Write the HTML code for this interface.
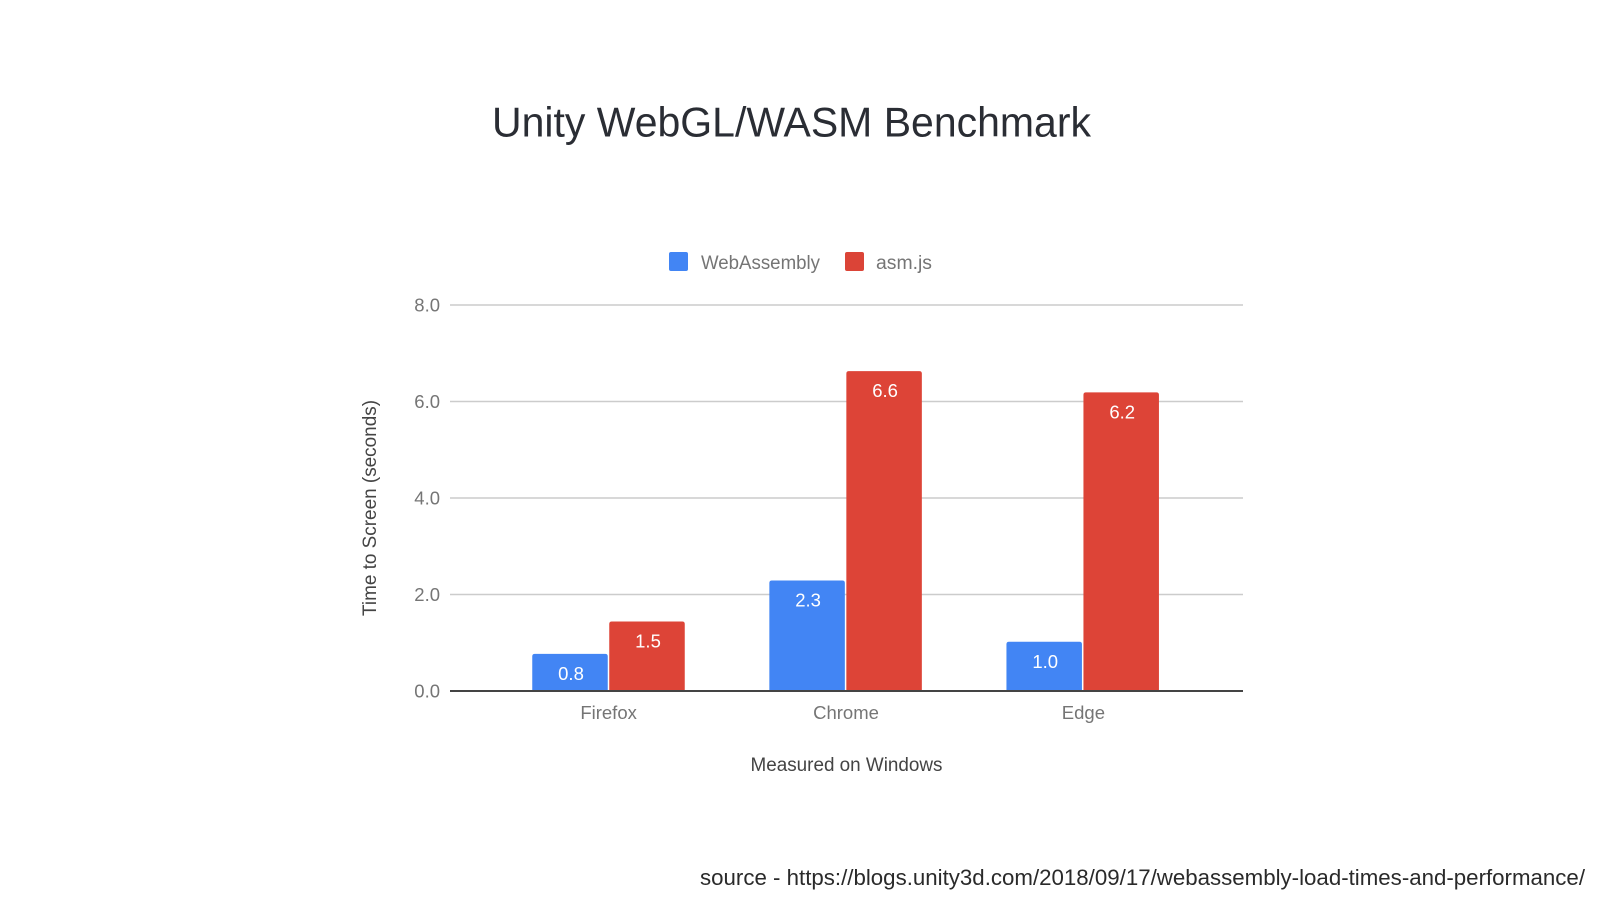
<!DOCTYPE html>
<html lang="en">
<head>
<meta charset="utf-8">
<title>Unity WebGL/WASM Benchmark</title>
<style>
html,body{margin:0;padding:0;background:#fff;width:1600px;height:900px;overflow:hidden}
svg{display:block}
text{font-family:"Liberation Sans",sans-serif}
</style>
</head>
<body>
<svg id="chart" xmlns="http://www.w3.org/2000/svg" width="1600" height="900" viewBox="0 0 1600 900">
  <rect x="0" y="0" width="1600" height="900" fill="#ffffff"/>
  <text x="492" y="136.5" font-size="42" fill="#2a2d34" textLength="599" lengthAdjust="spacingAndGlyphs">Unity WebGL/WASM Benchmark</text>
  <g>
    <rect x="669" y="252" width="19" height="19" rx="2" fill="#4285f4"/>
    <text x="701" y="269" font-size="19" fill="#757575" textLength="119" lengthAdjust="spacingAndGlyphs">WebAssembly</text>
    <rect x="845" y="252" width="19" height="19" rx="2" fill="#db4437"/>
    <text x="876" y="269" font-size="19" fill="#757575" textLength="56" lengthAdjust="spacingAndGlyphs">asm.js</text>
  </g>
  <g id="grid"></g>
  <g id="yticks"></g>
  <g id="bars"></g>
  <g id="xticks"></g>
  <text transform="translate(376,508) rotate(-90)" text-anchor="middle" font-size="19" fill="#444444" textLength="216" lengthAdjust="spacingAndGlyphs">Time to Screen (seconds)</text>
  <text x="846.5" y="771" text-anchor="middle" font-size="19" fill="#444444" textLength="192" lengthAdjust="spacingAndGlyphs">Measured on Windows</text>
  <text x="700" y="885" font-size="22" fill="#2a2a2a" textLength="885" lengthAdjust="spacingAndGlyphs">source - https://blogs.unity3d.com/2018/09/17/webassembly-load-times-and-performance/</text>
</svg>
<script>
const categories = ["Firefox", "Chrome", "Edge"];
const webAssemblyValues = [0.77, 2.29, 1.02];
const asmJsValues = [1.44, 6.63, 6.19];
const webAssemblyLabels = ["0.8", "2.3", "1.0"];
const asmJsLabels = ["1.5", "6.6", "6.2"];
const yTickValues = [0, 2, 4, 6, 8];
const yTickLabels = ["0.0", "2.0", "4.0", "6.0", "8.0"];

const NS = "http://www.w3.org/2000/svg";
const plotLeft = 450, plotRight = 1243;
const yZero = 691, pxPerUnit = 48.25;
const firstCenter = 608.5, categoryStep = 237.1, barWidth = 75.5, barGap = 1.5;
const firstLabelCenter = 608.6, labelStep = 237.4;

function yScale(v) { return yZero - v * pxPerUnit; }
function xCenter(i) { return firstCenter + i * categoryStep; }
function xLabelCenter(i) { return firstLabelCenter + i * labelStep; }

function make(tag, attrs, parent, content) {
  const el = document.createElementNS(NS, tag);
  for (const k in attrs) el.setAttribute(k, attrs[k]);
  if (content !== undefined) el.textContent = content;
  parent.appendChild(el);
  return el;
}

function barPath(x, w, top, base) {
  const r = Math.min(2.5, Math.max(0, base - top));
  return "M" + x + " " + base + "V" + (top + r) + "Q" + x + " " + top + " " + (x + r) + " " + top +
         "H" + (x + w - r) + "Q" + (x + w) + " " + top + " " + (x + w) + " " + (top + r) + "V" + base + "Z";
}

const gridG = document.getElementById("grid");
const yTickG = document.getElementById("yticks");
yTickValues.forEach(function (v, i) {
  const y = yScale(v);
  if (v !== 0) {
    const line = make("line", { x1: plotLeft, x2: plotRight, y1: y, y2: y, stroke: "#cccccc", "stroke-width": 1.4 }, gridG);
    
    
  }
  const t = make("text", { x: 440, y: y + 6.5, "text-anchor": "end", "font-size": 18.5, fill: "#757575" }, yTickG, yTickLabels[i]);
  
  
});

const barsG = document.getElementById("bars");
const xTickG = document.getElementById("xticks");
function drawBar(value, label, x, color, cx) {
  const top = yScale(value);
  const bar = make("path", { d: barPath(x, barWidth, top, yZero), fill: color }, barsG);
  
  
  const t = make("text", { x: cx, y: top + 26, "text-anchor": "middle", "font-size": 18.5, fill: "#ffffff" }, barsG, label);
  
  
}
categories.forEach(function (c, i) {
  const cx = xCenter(i);
  drawBar(webAssemblyValues[i], webAssemblyLabels[i], cx - barGap / 2 - barWidth, "#4285f4", cx - barGap / 2 - barWidth / 2 + 1);
  drawBar(asmJsValues[i], asmJsLabels[i], cx + barGap / 2, "#dd4437", cx + barGap / 2 + barWidth / 2 + 1);
  const t = make("text", { x: xLabelCenter(i), y: 719, "text-anchor": "middle", "font-size": 18.5, fill: "#757575" }, xTickG, c);
  
  
});

const axis = make("line", { x1: plotLeft, x2: plotRight, y1: yZero, y2: yZero, stroke: "#444444", "stroke-width": 2 }, barsG);


</script>
</body>
</html>
